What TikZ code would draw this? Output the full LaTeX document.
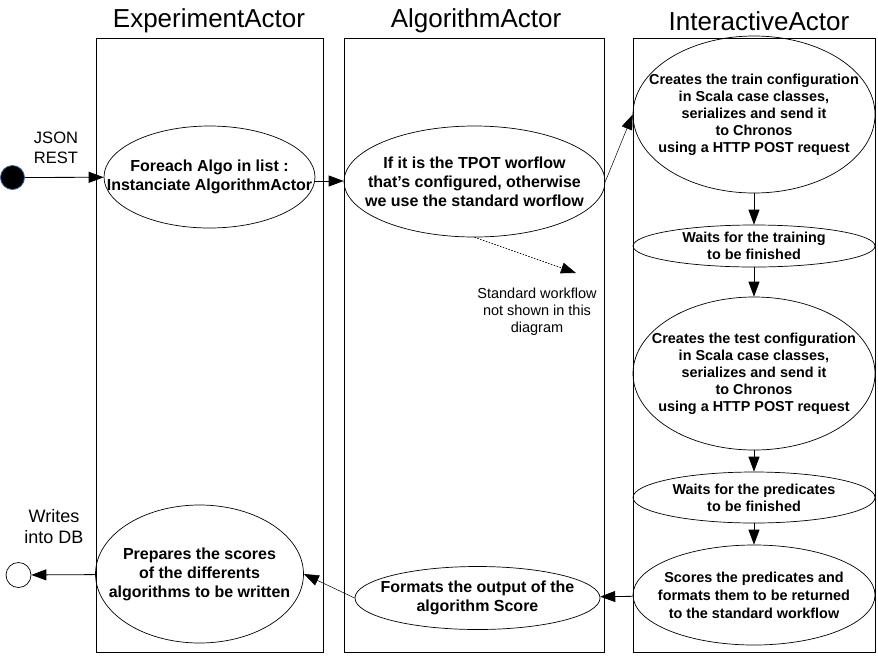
\documentclass[tikz,border=0pt]{standalone}
\usepackage{fontspec}
\setmainfont{Liberation Sans}
\usetikzlibrary{
  arrows.meta,
  positioning,
  shapes.geometric
}
\tikzset{
  lane/.style={draw=black, line width=1pt},
  lanetitle/.style={font=\fontsize{26}{30}\selectfont},
  usecase/.style={
    ellipse,
    draw=black,
    line width=0.7pt,
    inner sep=0pt
  },
  uctext/.style={align=center, inner sep=0pt, font=\fontsize{16}{19}\selectfont\bfseries},
  ucsmall/.style={align=center, inner sep=0pt, font=\fontsize{14.4}{17}\selectfont\bfseries},
  sidenote/.style={align=center, font=\fontsize{16.5}{20}\selectfont},
  smallnote/.style={align=center, font=\fontsize{14.5}{17}\selectfont},
  flow/.style={-{Triangle[length=15pt,width=11pt]}, line width=0.8pt, draw=black},
  thinflow/.style={-{Triangle[length=15pt,width=11pt]}, line width=0.5pt, draw=black},
  dotflow/.style={-{Triangle[length=15pt,width=11pt]}, line width=0.7pt, dash pattern=on 1.5pt off 1.5pt, draw=black}
}

\begin{document}
\begin{tikzpicture}[x=1pt,y=-1pt]
  \useasboundingbox (0,0) rectangle (878,657);

  % swimlanes
  \draw[lane] (96,38) rectangle (323,652);
  \draw[lane] (344,38) rectangle (604,652);
  \draw[lane] (633,38) rectangle (875,652);
  \node[lanetitle] (exptitle) at (209,21) {ExperimentActor};
  \node[lanetitle] (algotitle) at (476,21) {AlgorithmActor};
  \node[lanetitle] (intertitle) at (759,21) {InteractiveActor};

  % start / end
  \node[circle, fill=black, draw={rgb,255:red,52;green,101;blue,164}, line width=0.8pt,
        minimum size=24, inner sep=0pt] (start) at (12.5,177.5) {};
  \node[circle, draw=black, line width=0.7pt, fill=white,
        minimum size=25, inner sep=0pt] (stop) at (18.5,575) {};
  \node[sidenote] (json) at (56,148) {JSON\\REST};
  \node[sidenote, font=\fontsize{18}{21}\selectfont] (writes) at (54,527) {Writes\\into DB};

  % ExperimentActor
  \node[usecase, minimum width=211, minimum height=102,
        label={[uctext]center:{Foreach Algo in list :\\Instanciate AlgorithmActor}}] (foreach) at (209.5,177) {};
  \node[usecase, minimum width=208, minimum height=138,
        label={[uctext]center:{Prepares the scores\\of the differents\\algorithms to be written}}] (prepare) at (199.5,574) {};

  % AlgorithmActor
  \node[usecase, minimum width=261, minimum height=111,
        label={[uctext]center:{If it is the TPOT worflow\\that's configured, otherwise\\we use the standard worflow}}] (tpot) at (474.5,181.5) {};
  \node[usecase, minimum width=245, minimum height=63,
        label={[uctext]center:{Formats the output of the\\algorithm Score}}] (format) at (477.5,598) {};
  \coordinate (stdend) at (576,273);
  \node[smallnote] (stdnote) at (537,312) {Standard workflow\\not shown in this\\diagram};

  % InteractiveActor
  \node[usecase, minimum width=242, minimum height=157,
        label={[ucsmall]center:{Creates the train configuration\\in Scala case classes,\\serializes and send it\\to Chronos\\using a HTTP POST request}}] (train) at (754,114.5) {};
  \node[usecase, minimum width=242, minimum height=42,
        label={[ucsmall]center:{Waits for the training\\to be finished}}] (waittrain) at (754,246) {};
  \node[usecase, minimum width=242, minimum height=153,
        label={[ucsmall]center:{Creates the test configuration\\in Scala case classes,\\serializes and send it\\to Chronos\\using a HTTP POST request}}] (test) at (754,373.5) {};
  \node[usecase, minimum width=242, minimum height=51,
        label={[ucsmall]center:{Waits for the predicates\\to be finished}}] (waitpred) at (754,497.5) {};
  \node[usecase, minimum width=242, minimum height=100,
        label={[ucsmall, font=\fontsize{14.4}{18}\selectfont\bfseries]center:{Scores the predicates and\\formats them to be returned\\to the standard workflow}}] (score) at (754,595) {};

  % connectors
  \draw[flow] (start) -- (foreach);
  \draw[flow] (foreach.east |- 0,181) -- (tpot.west |- 0,181);
  \draw[thinflow] (tpot.east) -- (train.west);
  \draw[dotflow] (tpot.south) -- (stdend);
  \draw[flow] (train) -- (waittrain);
  \draw[flow] (waittrain) -- (test);
  \draw[flow] (test) -- (waitpred);
  \draw[flow] (waitpred) -- (score);
  \draw[flow] (score) -- (format);
  \draw[thinflow] (format.west) -- (prepare.east);
  \draw[flow] (prepare) -- (stop);
\end{tikzpicture}
\end{document}
